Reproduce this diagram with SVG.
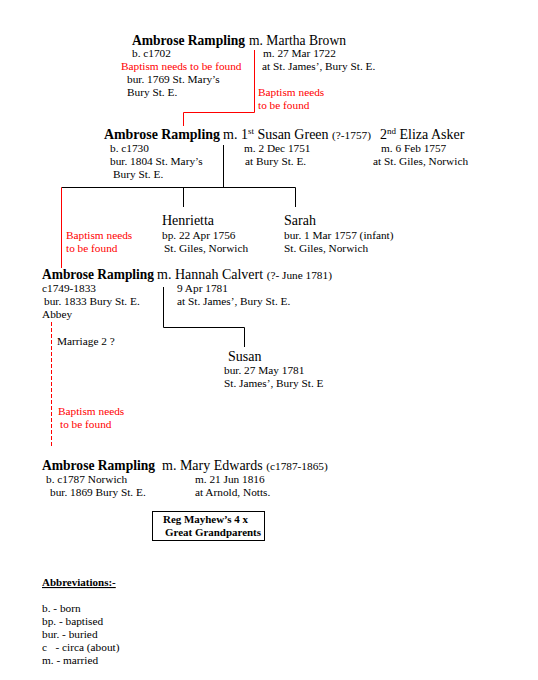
<svg xmlns="http://www.w3.org/2000/svg" width="538" height="680" viewBox="0 0 538 680">
<style>
text{font-family:"Liberation Serif","Times New Roman",serif;fill:#000}
.nm{font-size:14px;font-weight:bold}
.md{font-size:14px}
.sm{font-size:11.3px}
.sup{font-size:9px}
.red{fill:#ff0000}
.bx{font-size:11px;font-weight:bold}
.ln{stroke:#000;stroke-width:1;fill:none}
.rl{stroke:#ff0000;stroke-width:1;fill:none}
.rd{stroke:#ff0000;stroke-width:1;fill:none;stroke-dasharray:4,2}
</style>
<rect width="538" height="680" fill="#fff"/>
<g id="connectors">
<polyline class="rl" points="254.5,50 254.5,112.5 183.5,112.5 183.5,126"/>
<line class="ln" x1="223.5" y1="145" x2="223.5" y2="187.5"/>
<line class="ln" x1="61.5" y1="187.5" x2="295.5" y2="187.5"/>
<line class="ln" x1="183.5" y1="187.5" x2="183.5" y2="207"/>
<line class="ln" x1="295.5" y1="187.5" x2="295.5" y2="207"/>
<line class="rl" x1="61.5" y1="187.5" x2="61.5" y2="268"/>
<polyline class="ln" points="163.5,287 163.5,327.5 244.5,327.5 244.5,347"/>
<line class="rd" x1="51.5" y1="322" x2="51.5" y2="446"/>
</g>
<g id="gen1">
<text class="nm" x="132" y="45" textLength="113" lengthAdjust="spacingAndGlyphs">Ambrose Rampling</text>
<text class="md" x="249" y="45" textLength="97" lengthAdjust="spacingAndGlyphs">m. Martha Brown</text>
<text class="sm" x="132" y="57">b. c1702</text>
<text class="sm" x="263" y="57">m. 27 Mar 1722</text>
<text class="sm red" x="121" y="70">Baptism needs  to be found</text>
<text class="sm" x="262" y="70">at St. James’, Bury St. E.</text>
<text class="sm" x="127" y="83">bur. 1769 St. Mary’s</text>
<text class="sm" x="127" y="96">Bury St. E.</text>
<text class="sm red" x="258" y="96">Baptism needs</text>
<text class="sm red" x="258" y="109">to be found</text>
</g>
<g id="gen2">
<text class="nm" x="104" y="139" textLength="116" lengthAdjust="spacingAndGlyphs">Ambrose Rampling</text>
<text x="223" y="139"><tspan class="md">m. 1</tspan><tspan class="sup" dy="-5">st</tspan><tspan class="md" dy="5"> Susan Green </tspan><tspan class="sm">(?-1757)</tspan></text>
<text x="380" y="139"><tspan class="md">2</tspan><tspan class="sup" dy="-5">nd</tspan><tspan class="md" dy="5"> Eliza Asker</tspan></text>
<text class="sm" x="110" y="152">b.  c1730</text>
<text class="sm" x="244" y="152">m. 2 Dec 1751</text>
<text class="sm" x="381" y="152">m. 6 Feb  1757</text>
<text class="sm" x="110" y="165">bur. 1804  St. Mary’s</text>
<text class="sm" x="245" y="165">at Bury St. E.</text>
<text class="sm" x="373" y="165">at St. Giles, Norwich</text>
<text class="sm" x="113" y="178">Bury St. E.</text>
</g>
<g id="henrietta">
<text class="md" x="162" y="225">Henrietta</text>
<text class="sm" x="162" y="239">bp. 22 Apr 1756</text>
<text class="sm" x="164" y="252">St. Giles, Norwich</text>
</g>
<g id="sarah">
<text class="md" x="284" y="225">Sarah</text>
<text class="sm" x="284" y="239">bur. 1 Mar 1757 (infant)</text>
<text class="sm" x="284" y="252">St. Giles, Norwich</text>
</g>
<g id="note2">
<text class="sm red" x="66" y="239">Baptism needs</text>
<text class="sm red" x="66" y="252">to be found</text>
</g>
<g id="gen3">
<text class="nm" x="42" y="279" textLength="112" lengthAdjust="spacingAndGlyphs">Ambrose Rampling</text>
<text x="157" y="279"><tspan class="md">m. Hannah Calvert </tspan><tspan class="sm">(?- June 1781)</tspan></text>
<text class="sm" x="42" y="292">c1749-1833</text>
<text class="sm" x="177" y="292">9 Apr 1781</text>
<text class="sm" x="44" y="305">bur. 1833 Bury St. E.</text>
<text class="sm" x="177" y="305">at St. James’, Bury St. E.</text>
<text class="sm" x="42" y="318">Abbey</text>
<text class="sm" x="57" y="345">Marriage 2  ?</text>
</g>
<g id="susan">
<text class="md" x="228" y="361">Susan</text>
<text class="sm" x="224" y="374">bur. 27 May 1781</text>
<text class="sm" x="224" y="387">St. James’, Bury St. E</text>
</g>
<g id="note3">
<text class="sm red" x="58" y="415">Baptism needs</text>
<text class="sm red" x="60" y="428">to be found</text>
</g>
<g id="gen4">
<text class="nm" x="42" y="470" textLength="113" lengthAdjust="spacingAndGlyphs">Ambrose Rampling</text>
<text x="162" y="470"><tspan class="md">m. Mary Edwards </tspan><tspan class="sm">(c1787-1865)</tspan></text>
<text class="sm" x="46" y="483">b. c1787 Norwich</text>
<text class="sm" x="195" y="483">m. 21 Jun 1816</text>
<text class="sm" x="50" y="496">bur. 1869 Bury St. E.</text>
<text class="sm" x="195" y="496">at Arnold, Notts.</text>
</g>
<g id="box">
<rect x="152.5" y="511.5" width="112" height="29" fill="none" stroke="#000" stroke-width="1"/>
<text class="bx" x="163" y="523" textLength="85" lengthAdjust="spacingAndGlyphs">Reg Mayhew’s 4 x</text>
<text class="bx" x="165" y="536" textLength="96" lengthAdjust="spacingAndGlyphs">Great Grandparents</text>
</g>
<g id="abbreviations">
<text class="bx" x="42" y="586" text-decoration="underline">Abbreviations:-</text>
<text class="sm" x="42" y="612">b. - born</text>
<text class="sm" x="42" y="625">bp. - baptised</text>
<text class="sm" x="42" y="638">bur. - buried</text>
<text class="sm" x="42" y="651" xml:space="preserve">c   - circa (about)</text>
<text class="sm" x="42" y="664">m. - married</text>
</g>
</svg>
